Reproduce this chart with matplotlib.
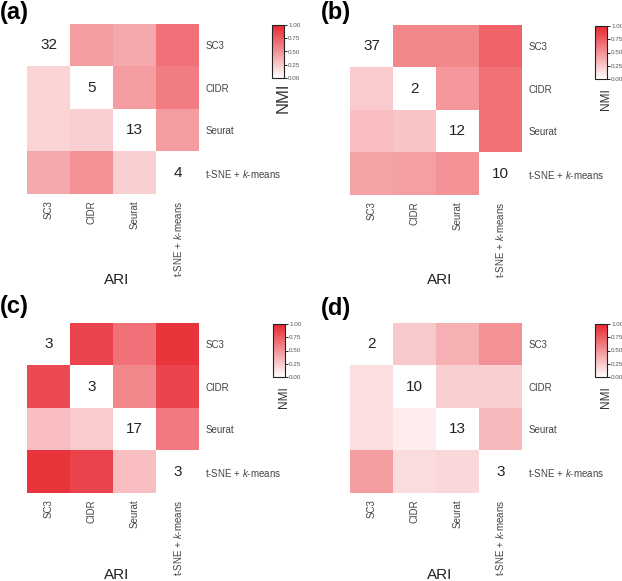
import numpy as np
import matplotlib
matplotlib.use("Agg")
from matplotlib import pyplot as plt
from matplotlib.colors import LinearSegmentedColormap

plt.rcParams["font.family"] = ["Liberation Sans", "DejaVu Sans"]
plt.rcParams["mathtext.fontset"] = "custom"
plt.rcParams["mathtext.it"] = "Liberation Sans:italic"
plt.rcParams["mathtext.rm"] = "Liberation Sans"

methods = ["SC3", "CIDR", "Seurat", "t-SNE + $\\it{k}$-means"]
panels = ["(a)", "(b)", "(c)", "(d)"]

# upper triangle = NMI, lower triangle = ARI, diagonal = number of clusters
# NMI order: SC3-CIDR, SC3-Seurat, SC3-tSNE, CIDR-Seurat, CIDR-tSNE, Seurat-tSNE
# ARI order: CIDR-SC3, Seurat-SC3, Seurat-CIDR, tSNE-SC3, tSNE-CIDR, tSNE-Seurat
nmi_a = [0.45, 0.40, 0.65, 0.45, 0.60, 0.45]
ari_a = [0.20, 0.20, 0.22, 0.40, 0.50, 0.22]
k_a = [32, 5, 13, 4]

nmi_b = [0.55, 0.55, 0.72, 0.47, 0.66, 0.66]
ari_b = [0.24, 0.30, 0.27, 0.42, 0.44, 0.50]
k_b = [37, 2, 12, 10]

nmi_c = [0.86, 0.65, 0.93, 0.55, 0.86, 0.62]
ari_c = [0.83, 0.30, 0.24, 0.93, 0.86, 0.30]
k_c = [3, 3, 17, 3]

nmi_d = [0.25, 0.36, 0.50, 0.22, 0.22, 0.32]
ari_d = [0.15, 0.15, 0.08, 0.45, 0.16, 0.18]
k_d = [2, 10, 13, 3]

nmi_all = [nmi_a, nmi_b, nmi_c, nmi_d]
ari_all = [ari_a, ari_b, ari_c, ari_d]
k_all = [k_a, k_b, k_c, k_d]

cmap = LinearSegmentedColormap.from_list("wr", ["#FFFFFF", "#E8262F"])

W, H = 622, 581
fig = plt.figure(figsize=(W / 100, H / 100), dpi=100)

def fx(px):
    return px / W

def fy(py):
    return 1 - py / H

# pixel positions of each panel: grid left, grid top
origins = [(27, 24), (350, 25), (27, 323), (350, 323)]
cbar_x = [272, 595, 273, 595]
letter_pos = [(0, 12), (321, 13), (0, 307), (321, 309)]
ari_dy = [256, 255, 252, 252]
nmi_size = [12, 8.5, 8.5, 8.5]
grid_w, grid_h = 172, 170

upper = [(0, 1), (0, 2), (0, 3), (1, 2), (1, 3), (2, 3)]
lower = [(1, 0), (2, 0), (2, 1), (3, 0), (3, 1), (3, 2)]

for p in range(4):
    gx, gy = origins[p]
    mat = np.full((4, 4), np.nan)
    for (i, j), v in zip(upper, nmi_all[p]):
        mat[i, j] = v
    for (i, j), v in zip(lower, ari_all[p]):
        mat[i, j] = v

    ax = fig.add_axes([fx(gx), fy(gy + grid_h), fx(grid_w), grid_h / H])
    im = ax.imshow(mat, cmap=cmap, vmin=0, vmax=1, aspect="auto")
    for d in range(4):
        ax.text(d, d, str(k_all[p][d]), ha="center", va="center", fontsize=11, color="#222222")
    ax.set_xticks(range(4))
    ax.set_yticks(range(4))
    ax.set_xticklabels(methods, rotation=90, fontsize=7, color="#444444")
    ax.set_yticklabels(methods, fontsize=7, color="#444444")
    ax.yaxis.tick_right()
    ax.tick_params(length=0, pad=4.5)
    for s in ax.spines.values():
        s.set_visible(False)

    # colour bar
    cax = fig.add_axes([fx(cbar_x[p]), fy(gy + 54), fx(12), 53 / H])
    cb = fig.colorbar(im, cax=cax, ticks=[0, 0.25, 0.5, 0.75, 1.0])
    cb.ax.set_yticklabels(["0.00", "0.25", "0.50", "0.75", "1.00"])
    cb.ax.tick_params(labelsize=4.5, length=2, width=0.6, pad=1, labelcolor="#555555")
    cb.outline.set_linewidth(0.8)
    cb.outline.set_edgecolor("#222222")

    fig.text(fx(cbar_x[p] + 11), fy(gy + 74), "NMI", rotation=90, ha="center", va="center",
             fontsize=nmi_size[p], color="#333333")
    fig.text(fx(gx + 90), fy(gy + ari_dy[p]), "ARI", ha="center", va="center", fontsize=11, color="#222222")
    lx, ly = letter_pos[p]
    fig.text(fx(lx), fy(ly), panels[p], ha="left", va="center", fontsize=17, fontweight="bold")

fig.savefig("out.png", dpi=100)
